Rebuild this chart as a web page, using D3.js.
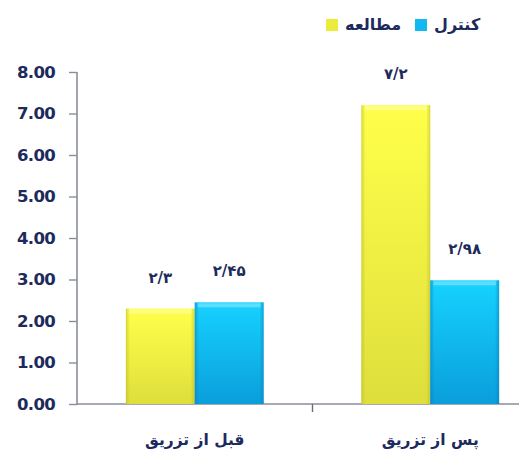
<!DOCTYPE html>
<html>
<head>
<meta charset="utf-8">
<script src="https://cdn.jsdelivr.net/npm/d3@7"></script>
<style>
  html, body { margin: 0; padding: 0; background: #fff; }
  svg { display: block; }
</style>
</head>
<body>
<div id="chart"></div>
<script>
const categories = ["قبل از تزریق", "پس از تزریق"];
const seriesNames = ["مطالعه", "کنترل"];
const studyValues = [2.3, 7.2];
const controlValues = [2.45, 2.98];
const valueLabels = [["۲/۳", "۲/۴۵"], ["۷/۲", "۲/۹۸"]];
const yTicks = [0, 1, 2, 3, 4, 5, 6, 7, 8];

(() => {
    const width = 519, height = 457;
    const margin = { top: 72, left: 77, bottom: 53 };
    const textColor = "#1d2a5c";
    const faFont = "'DejaVu Sans', sans-serif";

    const data = categories.map((c, i) => ({
        cat: c,
        vals: [studyValues[i], controlValues[i]],
        labels: valueLabels[i]
    }));

    const svg = d3.select("#chart").append("svg")
        .attr("width", width)
        .attr("height", height);

    const defs = svg.append("defs");
    const grads = [
        { id: "gYellow", top: "#ffff4a", bottom: "#dede3c", edge: "#b8b830" },
        { id: "gBlue", top: "#16d2ff", bottom: "#0a9edc", edge: "#0a7fb0" }
    ];
    grads.forEach(g => {
        const lg = defs.append("linearGradient").attr("id", g.id)
            .attr("x1", 0).attr("y1", 0).attr("x2", 0).attr("y2", 1);
        lg.append("stop").attr("offset", "0%").attr("stop-color", g.top);
        lg.append("stop").attr("offset", "100%").attr("stop-color", g.bottom);
        const side = defs.append("linearGradient").attr("id", g.id + "Side")
            .attr("x1", 0).attr("y1", 0).attr("x2", 1).attr("y2", 0);
        side.append("stop").attr("offset", "0%").attr("stop-color", g.edge).attr("stop-opacity", 0.55);
        side.append("stop").attr("offset", "6%").attr("stop-color", g.edge).attr("stop-opacity", 0);
        side.append("stop").attr("offset", "94%").attr("stop-color", g.edge).attr("stop-opacity", 0);
        side.append("stop").attr("offset", "100%").attr("stop-color", g.edge).attr("stop-opacity", 0.55);
    });

    const y = d3.scaleLinear()
        .domain([0, 8])
        .range([height - margin.bottom, margin.top]);

    const x0 = d3.scaleBand()
        .domain(categories)
        .range([margin.left, 548])
        .paddingInner(0.415)
        .paddingOuter(0.2075);

    const x1 = d3.scaleBand()
        .domain(seriesNames)
        .range([0, x0.bandwidth()]);

    // y axis
    const yAxis = svg.append("g")
        .attr("transform", `translate(${margin.left},0)`)
        .call(d3.axisLeft(y).tickValues(yTicks).tickSize(8).tickSizeOuter(0).tickFormat(d3.format(".2f")));
    yAxis.select(".domain").attr("stroke", "#8a8e98").attr("stroke-width", 1.6)
        .attr("d", `M0,${y(8)}V${y(0) + 1}`);
    yAxis.selectAll(".tick line").attr("stroke", "#8a8e98").attr("stroke-width", 1.4);
    yAxis.selectAll(".tick text")
        .attr("x", -22)
        .attr("fill", textColor)
        .style("font-family", "'DejaVu Sans', sans-serif")
        .style("font-weight", "bold")
        .style("font-size", "16.5px")
        .style("letter-spacing", "-0.7px");

    // x axis
    const xBase = y(0);
    svg.append("line")
        .attr("x1", margin.left).attr("x2", width)
        .attr("y1", xBase).attr("y2", xBase)
        .attr("stroke", "#8a8e98").attr("stroke-width", 1.4);
    const midTick = (x0(categories[0]) + x0.bandwidth() + x0(categories[1])) / 2;
    svg.append("line")
        .attr("x1", midTick).attr("x2", midTick)
        .attr("y1", xBase).attr("y2", xBase + 8)
        .attr("stroke", "#6a6e78").attr("stroke-width", 1.4);

    const groups = svg.selectAll(".grp")
        .data(data)
        .enter().append("g")
        .attr("class", "grp")
        .attr("transform", d => `translate(${x0(d.cat)},0)`);

    groups.each(function(d) {
        const g = d3.select(this);
        d.vals.forEach((v, j) => {
            const gid = grads[j].id;
            const bx = x1(seriesNames[j]);
            const bw = x1.bandwidth();
            g.append("rect")
                .attr("x", bx).attr("y", y(v))
                .attr("width", bw).attr("height", xBase - y(v))
                .attr("fill", `url(#${gid})`);
            g.append("rect")
                .attr("x", bx).attr("y", y(v))
                .attr("width", bw).attr("height", xBase - y(v))
                .attr("fill", `url(#${gid}Side)`);
            g.append("rect")
                .attr("x", bx + 3).attr("y", y(v) + 1)
                .attr("width", bw - 6).attr("height", 4)
                .attr("fill", "#ffffff").attr("opacity", 0.3);
            g.append("text")
                .attr("x", bx + bw / 2)
                .attr("y", y(v) - 26)
                .attr("text-anchor", "middle")
                .attr("fill", textColor)
                .style("font-family", faFont)
                .style("font-weight", "bold")
                .style("font-size", "15px")
                .text(d.labels[j]);
        });
    });

    // category labels
    svg.selectAll(".cat")
        .data(categories)
        .enter().append("text")
        .attr("class", "cat")
        .attr("x", d => x0(d) + x0.bandwidth() / 2)
        .attr("y", 445)
        .attr("text-anchor", "middle")
        .attr("fill", textColor)
        .style("font-family", faFont)
        .style("font-size", "15.5px")
        .style("font-weight", "bold")
        .text(d => d);

    // legend
    const legendItems = [
        { name: seriesNames[1], color: "#12b8f0", x: 415 },
        { name: seriesNames[0], color: "#ecec3c", x: 326 }
    ];
    const leg = svg.selectAll(".leg")
        .data(legendItems)
        .enter().append("g")
        .attr("class", "leg")
        .attr("transform", d => `translate(${d.x},19)`);
    leg.append("rect")
        .attr("width", 12).attr("height", 12)
        .attr("fill", d => d.color);
    leg.append("text")
        .attr("x", 19).attr("y", 11)
        .attr("fill", textColor)
        .style("font-family", faFont)
        .style("font-size", "16px")
        .style("font-weight", "bold")
        .text(d => d.name);
})();
</script>
</body>
</html>
